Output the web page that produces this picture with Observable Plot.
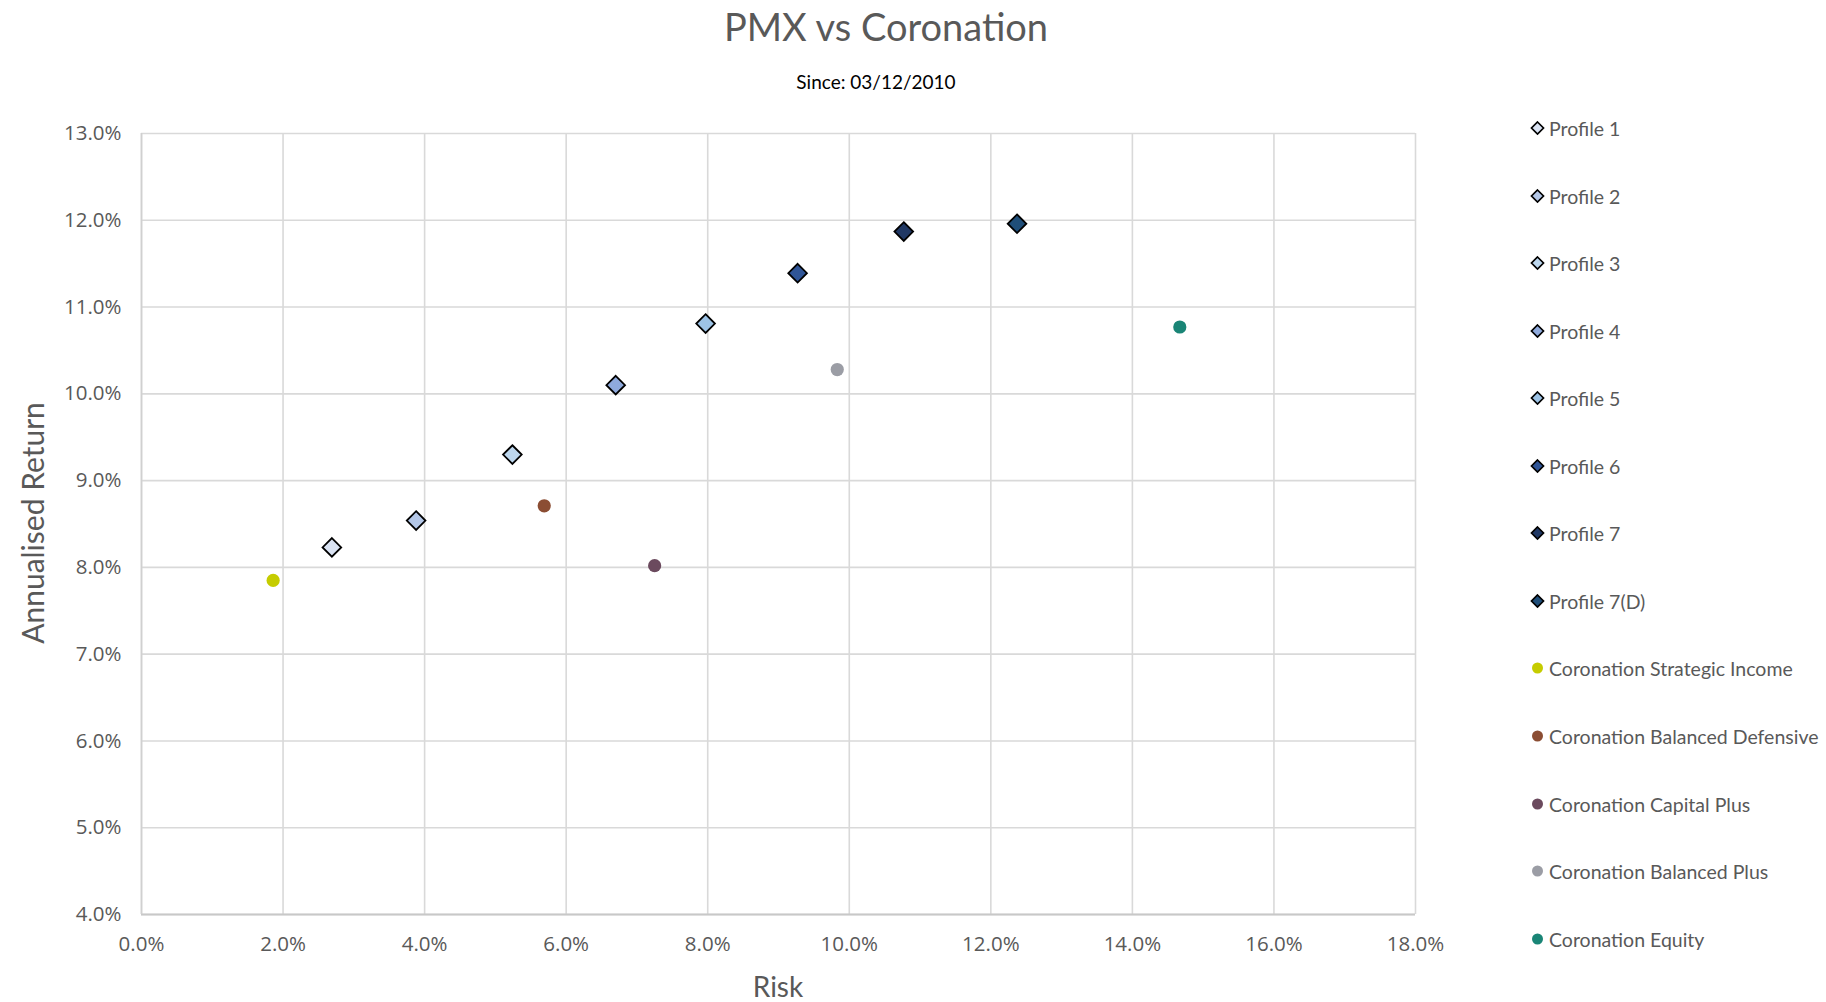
<!DOCTYPE html>
<html>
<head>
<meta charset="utf-8">
<script src="https://cdn.jsdelivr.net/npm/d3@7"></script>
<script src="https://cdn.jsdelivr.net/npm/@observablehq/plot@0.6"></script>
<style>
  html, body { margin: 0; padding: 0; background: #ffffff; }
  #wrap { position: relative; width: 1826px; height: 1002px; overflow: hidden; font-family: Lato, "Open Sans", sans-serif; color: #595959; }
  #title { position: absolute; left: 0; width: 1772px; top: 3px; text-align: center; font-size: 38px; }
  #subtitle { position: absolute; left: 0; width: 1752px; top: 70px; text-align: center; font-size: 19px; color: #000; }
  #chart { position: absolute; left: 0; top: 95px; }
  #xlabel { position: absolute; left: 0; width: 1556px; top: 969px; text-align: center; font-size: 28px; }
  #ylabel { position: absolute; left: 32px; top: 523px; width: 0; height: 0; }
  #ylabel span { position: absolute; transform: translate(-50%, -50%) rotate(-90deg); white-space: nowrap; font-size: 30px; }
  #legend { position: absolute; left: 1530px; top: 0; }
  .item { position: absolute; left: 0; display: flex; align-items: center; white-space: nowrap; font-size: 19.5px; transform: translateY(-50%); }
  .item svg { margin-right: 4px; }
</style>
</head>
<body>
<div id="wrap">
  <div id="title">PMX vs Coronation</div>
  <div id="subtitle">Since: 03/12/2010</div>
  <div id="chart"></div>
  <div id="xlabel">Risk</div>
  <div id="ylabel"><span>Annualised Return</span></div>
  <div id="legend"></div>
</div>
<script>
// ---- data ----
const seriesNames = [
  "Profile 1", "Profile 2", "Profile 3", "Profile 4", "Profile 5",
  "Profile 6", "Profile 7", "Profile 7(D)",
  "Coronation Strategic Income", "Coronation Balanced Defensive",
  "Coronation Capital Plus", "Coronation Balanced Plus", "Coronation Equity"
];
const riskValues   = [0.0269, 0.0388, 0.0524, 0.0670, 0.0797, 0.0927, 0.1077, 0.1237, 0.0186, 0.0569, 0.0725, 0.0983, 0.1467];
const returnValues = [0.0823, 0.0854, 0.0930, 0.1010, 0.1081, 0.1139, 0.1187, 0.1196, 0.0785, 0.0871, 0.0802, 0.1028, 0.1077];
const seriesColors = ["#dae3f3", "#b4c7e7", "#bdd7ee", "#8faadc", "#9dc3e6", "#2f5597", "#203864", "#1f4e79",
                      "#c5cc00", "#8b4d33", "#6b4a5e", "#9b9da5", "#1a8576"];
const seriesShapes = ["diamond", "diamond", "diamond", "diamond", "diamond", "diamond", "diamond", "diamond",
                      "circle", "circle", "circle", "circle", "circle"];
const xTicks = [0, 0.02, 0.04, 0.06, 0.08, 0.10, 0.12, 0.14, 0.16, 0.18];
const yTicks = [0.04, 0.05, 0.06, 0.07, 0.08, 0.09, 0.10, 0.11, 0.12, 0.13];

const rows = seriesNames.map((name, i) => ({
  name, risk: riskValues[i], ret: returnValues[i], color: seriesColors[i], shape: seriesShapes[i]
}));
const diamonds = rows.filter(d => d.shape === "diamond");
const circles = rows.filter(d => d.shape === "circle");
const pct = d3.format(".1%");

const chart = Plot.plot({
  width: 1826,
  height: 907,
  marginTop: 38,
  marginBottom: 88,
  marginLeft: 141,
  marginRight: 411,
  style: { fontFamily: "'Open Sans', sans-serif", fontSize: "20px", color: "#595959", background: "transparent" },
  x: { domain: [0, 0.18], label: null },
  y: { domain: [0.04, 0.13], label: null },
  color: { type: "identity" },
  marks: [
    Plot.gridX(xTicks, { stroke: "#d9d9d9", strokeOpacity: 1, strokeWidth: 1.6 }),
    Plot.gridY(yTicks, { stroke: "#d9d9d9", strokeOpacity: 1, strokeWidth: 1.6 }),
    Plot.ruleY([0.04], { stroke: "#c8c8c8", strokeWidth: 1.8 }),
    Plot.ruleX([0], { stroke: "#d0d0d0", strokeWidth: 1.6 }),
    Plot.axisX(xTicks, { tickSize: 0, tickPadding: 22, tickFormat: pct, fill: "#595959", fontSize: 20.5 }),
    Plot.axisY(yTicks, { tickSize: 0, tickPadding: 20, tickFormat: pct, fill: "#595959", fontSize: 20.5 }),
    Plot.dot(circles, { x: "risk", y: "ret", fill: "color", r: 6.6, symbol: "circle", stroke: "none" }),
    Plot.dot(diamonds, { x: "risk", y: "ret", fill: "color", r: 8.4, symbol: "diamond2", stroke: "#000000", strokeWidth: 1.8 })
  ]
});
document.getElementById("chart").appendChild(chart);

// ---- legend ----
const legend = document.getElementById("legend");
const legendY0 = 128, legendStep = 67.55;
rows.forEach((d, i) => {
  const item = document.createElement("div");
  item.className = "item";
  item.style.top = (legendY0 + i * legendStep) + "px";
  const svg = d3.create("svg").attr("width", 15).attr("height", 15);
  if (d.shape === "diamond") {
    svg.append("path").attr("d", "M7.5,1.5L13.5,7.5L7.5,13.5L1.5,7.5Z")
      .attr("fill", d.color).attr("stroke", "#000").attr("stroke-width", 1.7);
  } else {
    svg.append("circle").attr("cx", 7.5).attr("cy", 7.5).attr("r", 5.5).attr("fill", d.color);
  }
  item.appendChild(svg.node());
  const label = document.createElement("span");
  label.textContent = d.name;
  item.appendChild(label);
  legend.appendChild(item);
});
</script>
</body>
</html>
